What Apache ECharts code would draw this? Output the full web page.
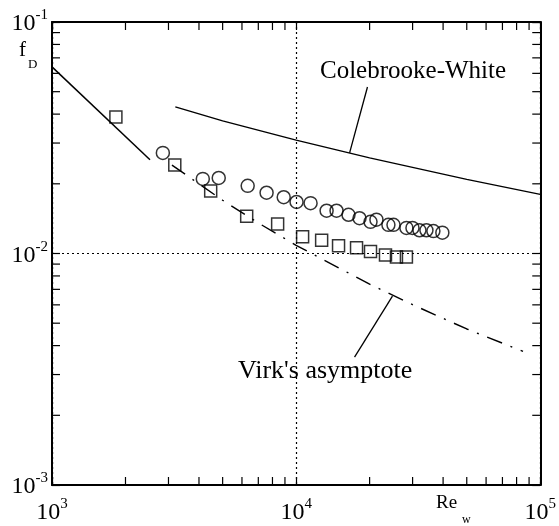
<!DOCTYPE html>
<html><head><meta charset="utf-8">
<script src="https://cdn.jsdelivr.net/npm/echarts@6/dist/echarts.min.js"></script>
<style>html,body{margin:0;padding:0;background:#fff}#c{width:559px;height:526px}</style>
</head><body><div id="c"></div>
<script>
// Axis ticks
const xTickValues = [1000, 10000, 100000];
const xTickExps = ['3', '4', '5'];
const yTickValues = [0.001, 0.01, 0.1];
const yTickExps = ['-3', '-2', '-1'];
const xMinorTicks = [2000, 3000, 4000, 5000, 6000, 7000, 8000, 9000, 20000, 30000, 40000, 50000, 60000, 70000, 80000, 90000];
const yMinorTicks = [0.002, 0.003, 0.004, 0.005, 0.006, 0.007, 0.008, 0.009, 0.02, 0.03, 0.04, 0.05, 0.06, 0.07, 0.08, 0.09];

// Laminar line (solid)
const laminarRe = [1000, 2520];
const laminarF = [0.064, 0.0254];
// Virk's asymptote (dash-dot)
const virkRe = [3100, 5000, 7000, 10000, 20000, 30000, 50000, 85000];
const virkF = [0.0241, 0.01698, 0.01355, 0.01085, 0.00737, 0.00601, 0.00472, 0.00378];
// Colebrooke-White (solid)
const cwRe = [3200, 5000, 10000, 20000, 50000, 100000];
const cwF = [0.0430, 0.0374, 0.0309, 0.0259, 0.0209, 0.0180];
// Squares
const squareRe = [1827, 3184, 4467, 6273, 8400, 10630, 12720, 14920, 17680, 20170, 23230, 25760, 28300];
const squareF = [0.0389, 0.0241, 0.0186, 0.0145, 0.0134, 0.0118, 0.0114, 0.0108, 0.0106, 0.0102, 0.00985, 0.00966, 0.00966];
// Circles
const circleRe = [2845, 4147, 4819, 6332, 7568, 8895, 10040, 11460, 13330, 14640, 16390, 18180, 20170, 21330, 23880, 25050, 28300, 29960, 32000, 34180, 36500, 39720];
const circleF = [0.0272, 0.0210, 0.0212, 0.0196, 0.0183, 0.0175, 0.0167, 0.0165, 0.0153, 0.0153, 0.0147, 0.0142, 0.0137, 0.0140, 0.0133, 0.0133, 0.0129, 0.0129, 0.0126, 0.0126, 0.0125, 0.0123];
// Leader lines for annotations [Re, f]
const cwLeader = [[19600, 0.0524], [16560, 0.0272]];
const virkLeader = [[17350, 0.00357], [24810, 0.00655]];

const zip = (a, b) => a.map((v, i) => [v, b[i]]);
const FONT = 'Liberation Serif';

function expLabel(values, exps) {
  return function (v) {
    let best = 0, bd = Infinity;
    values.forEach((t, i) => { const d = Math.abs(Math.log10(t) - Math.log10(v)); if (d < bd) { bd = d; best = i; } });
    return '{b|10}{s|' + exps[best] + '}';
  };
}
const richLabel = {
  b: { fontFamily: FONT, fontSize: 24, lineHeight: 28, color: '#000', verticalAlign: 'bottom' },
  s: { fontFamily: FONT, fontSize: 15, lineHeight: 15, color: '#000', verticalAlign: 'top' }
};

const chart = echarts.init(document.getElementById('c'), null, { renderer: 'canvas' });

function xTickRender(params, api) {
  const cs = params.coordSys;
  const p = api.coord([api.value(0), api.value(1)]);
  const style = { stroke: '#000', lineWidth: 1.2 };
  return { type: 'group', children: [
    { type: 'line', shape: { x1: p[0], y1: cs.y + cs.height, x2: p[0], y2: cs.y + cs.height - 8 }, style },
    { type: 'line', shape: { x1: p[0], y1: cs.y, x2: p[0], y2: cs.y + 8 }, style }
  ] };
}
function yTickRender(params, api) {
  const cs = params.coordSys;
  const p = api.coord([api.value(0), api.value(1)]);
  const style = { stroke: '#000', lineWidth: 1.2 };
  return { type: 'group', children: [
    { type: 'line', shape: { x1: cs.x, y1: p[1], x2: cs.x + 8, y2: p[1] }, style },
    { type: 'line', shape: { x1: cs.x + cs.width, y1: p[1], x2: cs.x + cs.width - 8, y2: p[1] }, style }
  ] };
}

const axisCommon = {
  type: 'log', logBase: 10,
  axisLine: { show: true, onZero: false, lineStyle: { color: '#000', width: 2 } },
  axisTick: { show: true, inside: true, length: 8, lineStyle: { color: '#000', width: 1.2 } },
  minorTick: { show: false }
};

chart.setOption({
  animation: false,
  backgroundColor: '#fff',
  grid: { left: 52, right: 18, top: 22, bottom: 41, containLabel: false },
  xAxis: [
    Object.assign({}, axisCommon, {
      position: 'bottom', min: 1000, max: 100000,
      axisLabel: { show: true, margin: 12, formatter: expLabel(xTickValues, xTickExps), rich: richLabel },
      splitLine: { show: true, lineStyle: { color: '#000', width: 1.2, type: [2, 3] } }
    }),
    Object.assign({}, axisCommon, {
      position: 'top', min: 1000, max: 100000,
      axisLabel: { show: false }, splitLine: { show: false }
    })
  ],
  yAxis: [
    Object.assign({}, axisCommon, {
      position: 'left', min: 0.001, max: 0.1,
      axisLabel: { show: true, margin: 4, formatter: expLabel(yTickValues, yTickExps), rich: richLabel },
      splitLine: { show: true, lineStyle: { color: '#000', width: 1.2, type: [2, 3] } }
    }),
    Object.assign({}, axisCommon, {
      position: 'right', min: 0.001, max: 0.1,
      axisLabel: { show: false }, splitLine: { show: false }
    })
  ],
  series: [
    { type: 'line', data: zip(laminarRe, laminarF), showSymbol: false, symbol: 'none',
      lineStyle: { color: '#000', width: 1.5 }, z: 3 },
    { type: 'line', data: zip(virkRe, virkF), showSymbol: false, symbol: 'none',
      lineStyle: { color: '#000', width: 1.4, type: [16, 9, 2, 9] }, z: 3,
      markLine: { silent: true, symbol: ['none', 'none'], label: { show: false },
        lineStyle: { color: '#000', width: 1.3, type: 'solid' },
        data: [[{ coord: virkLeader[0] }, { coord: virkLeader[1] }]] } },
    { type: 'line', data: zip(cwRe, cwF), showSymbol: false, symbol: 'none',
      lineStyle: { color: '#000', width: 1.4 }, z: 3,
      markLine: { silent: true, symbol: ['none', 'none'], label: { show: false },
        lineStyle: { color: '#000', width: 1.3, type: 'solid' },
        data: [[{ coord: cwLeader[0] }, { coord: cwLeader[1] }]] } },
    { type: 'scatter', data: zip(squareRe, squareF), symbol: 'rect', symbolSize: 12,
      itemStyle: { color: 'rgba(0,0,0,0)', borderColor: '#000', borderWidth: 1.5 }, z: 4 },
    { type: 'scatter', data: zip(circleRe, circleF), symbol: 'circle', symbolSize: 13,
      itemStyle: { color: 'rgba(0,0,0,0)', borderColor: '#000', borderWidth: 1.5 }, z: 4 },
    { type: 'custom', data: xMinorTicks.map(v => [v, 0.01]), renderItem: xTickRender, silent: true, clip: false, z: 5 },
    { type: 'custom', data: yMinorTicks.map(v => [10000, v]), renderItem: yTickRender, silent: true, clip: false, z: 5 }
  ],
  graphic: [
    { type: 'text', left: 19, top: 40, style: { text: 'f', font: '21px "Liberation Serif"', fill: '#000' } },
    { type: 'text', left: 28, top: 58, style: { text: 'D', font: '13px "Liberation Serif"', fill: '#000' } },
    { type: 'text', left: 436, top: 494, style: { text: 'Re', font: '19px "Liberation Serif"', fill: '#000' } },
    { type: 'text', left: 462, top: 514, style: { text: 'w', font: '12px "Liberation Serif"', fill: '#000' } },
    { type: 'text', left: 320, top: 59, style: { text: 'Colebrooke-White', font: '25px "Liberation Serif"', fill: '#000' } },
    { type: 'text', left: 238, top: 358, style: { text: "Virk's asymptote", font: '26px "Liberation Serif"', fill: '#000' } }
  ]
});
</script></body></html>
